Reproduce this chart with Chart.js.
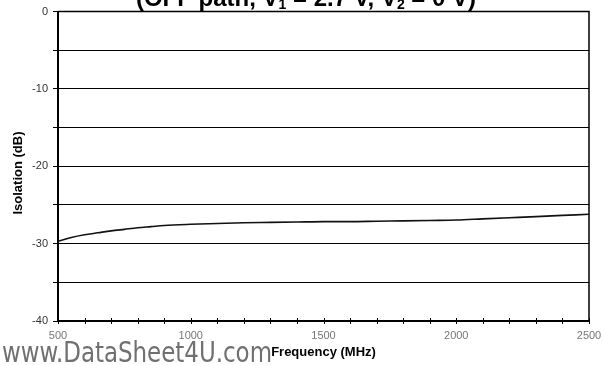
<!DOCTYPE html>
<html>
<head>
<meta charset="utf-8">
<script src="https://cdn.jsdelivr.net/npm/chart.js@4.4.1/dist/chart.umd.min.js"></script>
<style>
  html, body { margin: 0; padding: 0; background: #fff; }
  #wrap { width: 603px; height: 365px; position: relative; }
</style>
</head>
<body>
<div id="wrap"><canvas id="c" width="603" height="365"></canvas></div>
<script>
// Isolation vs. frequency, OFF path
const frequencyMHz = [500, 550, 600, 650, 700, 750, 800, 850, 900, 1000, 1100, 1200, 1300,
                      1400, 1500, 1600, 1700, 1800, 1900, 2000, 2100, 2200, 2300, 2400, 2500];
const isolationDb = [-29.7, -29.2, -28.85, -28.6, -28.35, -28.15, -27.95, -27.8, -27.65, -27.5,
                     -27.4, -27.3, -27.25, -27.2, -27.15, -27.15, -27.1, -27.05, -27.0, -26.95,
                     -26.8, -26.65, -26.5, -26.35, -26.2];
const xLabelValues = [500, 1000, 1500, 2000, 2500];
const yLabelValues = [0, -10, -20, -30, -40];

const titleParts = [
  { t: '(OFF path, V' }, { t: '1', sub: true }, { t: ' = 2.7 V, V' }, { t: '2', sub: true }, { t: ' = 0 V)' }
];

const decor = {
  id: 'decor',
  afterDraw(chart) {
    const { ctx, chartArea: a, scales: { x, y } } = chart;
    ctx.save();
    // frame on top and right
    ctx.strokeStyle = '#000';
    ctx.lineWidth = 1.5;
    ctx.beginPath();
    ctx.moveTo(a.left, a.top); ctx.lineTo(a.right, a.top); ctx.lineTo(a.right, a.bottom);
    ctx.stroke();
    // x minor ticks crossing the axis
    ctx.lineWidth = 1;
    for (let v = x.min; v <= x.max; v += 100) {
      const px = Math.round(x.getPixelForValue(v)) + 0.5;
      ctx.beginPath(); ctx.moveTo(px, a.bottom - 3); ctx.lineTo(px, a.bottom + 3); ctx.stroke();
    }
    // title (runs off the top edge)
    const big = 'bold 24px "Liberation Sans", Arial, sans-serif';
    const small = 'bold 14px "Liberation Sans", Arial, sans-serif';
    let w = 0;
    titleParts.forEach(p => { ctx.font = p.sub ? small : big; w += ctx.measureText(p.t).width; });
    let cx = 306 - w / 2;
    ctx.fillStyle = '#000';
    ctx.textBaseline = 'alphabetic';
    ctx.textAlign = 'left';
    titleParts.forEach(p => {
      ctx.font = p.sub ? small : big;
      ctx.fillText(p.t, cx, p.sub ? 9 : 6);
      cx += ctx.measureText(p.t).width;
    });
    // y axis title
    ctx.save();
    ctx.translate(18, 173);
    ctx.rotate(-Math.PI / 2);
    ctx.font = 'bold 13px "Liberation Sans", Arial, sans-serif';
    ctx.textAlign = 'center';
    ctx.textBaseline = 'middle';
    ctx.fillText('Isolation (dB)', 0, 0);
    ctx.restore();
    // x axis title
    ctx.font = 'bold 13px "Liberation Sans", Arial, sans-serif';
    ctx.textAlign = 'center';
    ctx.textBaseline = 'alphabetic';
    ctx.fillText('Frequency (MHz)', (a.left + a.right) / 2, 356);
    // site mark
    ctx.font = '28px "DejaVu Sans Condensed", "DejaVu Sans", sans-serif';
    const mark = 'www.DataSheet4U.com';
    const mw = ctx.measureText(mark).width;
    ctx.save();
    ctx.translate(2, 362);
    ctx.scale(270 / mw, 1);
    ctx.fillStyle = '#707070';
    ctx.textAlign = 'left';
    ctx.fillText(mark, 0, 0);
    ctx.restore();
    ctx.restore();
  }
};

new Chart(document.getElementById('c'), {
  type: 'line',
  data: {
    datasets: [{
      data: frequencyMHz.map((f, i) => ({ x: f, y: isolationDb[i] })),
      borderColor: '#111',
      borderWidth: 1.6,
      pointRadius: 0,
      cubicInterpolationMode: 'monotone',
      fill: false
    }]
  },
  options: {
    responsive: false,
    animation: false,
    layout: { padding: { top: 11, right: 0, left: 0, bottom: 0 } },
    plugins: { legend: { display: false }, tooltip: { enabled: false }, title: { display: false } },
    scales: {
      x: {
        type: 'linear', min: 500, max: 2500,
        afterFit(s) { s.height = 44; s.paddingRight = 14; s.paddingLeft = 0; },
        border: { color: '#000', width: 2 },
        grid: { display: false },
        ticks: {
          stepSize: 100, autoSkip: false, maxRotation: 0, padding: 0,
          color: '#777',
          font: { family: '"Liberation Sans", Arial, sans-serif', size: 11 },
          callback: v => xLabelValues.includes(v) ? String(v) : ''
        }
      },
      y: {
        min: -40, max: 0,
        afterFit(s) { s.width = 58; },
        border: { color: '#000', width: 2 },
        grid: { color: '#000', lineWidth: 1, tickLength: 5, drawTicks: true },
        ticks: {
          stepSize: 5, autoSkip: false, padding: 5,
          color: '#333',
          font: { family: '"Liberation Sans", Arial, sans-serif', size: 11 },
          callback: v => yLabelValues.includes(v) ? String(v) : ''
        }
      }
    }
  },
  plugins: [decor]
});
</script>
</body>
</html>
